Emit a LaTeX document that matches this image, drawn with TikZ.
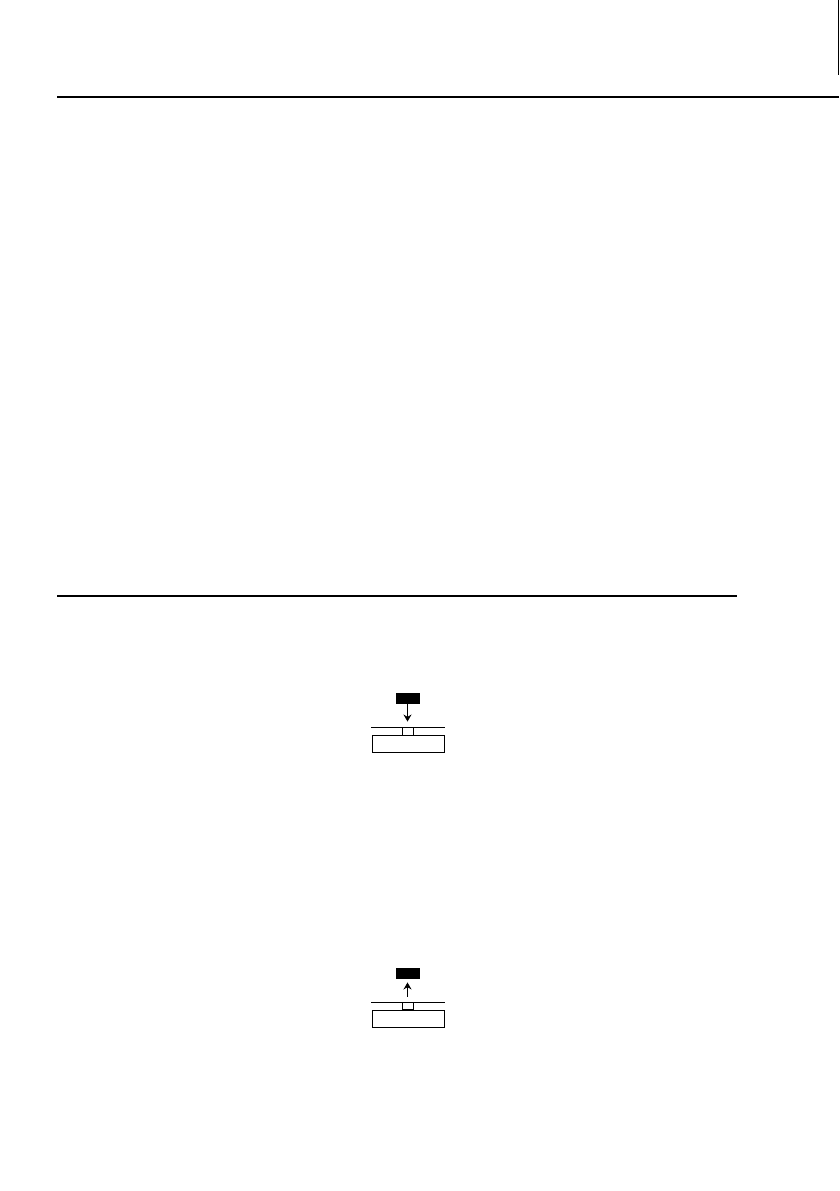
\documentclass[tikz,border=0pt]{standalone}
\usepackage{amsmath,amsfonts}
\usetikzlibrary{arrows.meta}

\tikzset{
  keyblk/.style={rectangle,draw,fill=black,minimum width=23pt,minimum height=10pt,inner sep=0pt},
  tabbox/.style={rectangle,draw,fill=white,minimum width=11pt,minimum height=8pt,inner sep=0pt},
  slotbox/.style={rectangle,draw,minimum width=72pt,minimum height=17pt,inner sep=0pt},
  rule/.style={line width=1.1pt},
  push/.style={-{Stealth[length=7pt,width=8pt]},line width=1.1pt}
}

\begin{document}
\begin{tikzpicture}[x=1pt,y=-1pt,line width=0.9pt]
                \useasboundingbox (0,0) rectangle (839,1191);

                % page rules
                \draw[rule] (838.3,0) -- (838.3,75);
                \draw[rule] (57,97) -- (839,97);
                \draw[rule] (57,596) -- (737,596);

                % insert
                \node[keyblk] (KEY1) at (407.5,698.5){};
                \draw (371,727) -- (445,727);
                \node[slotbox] (SLOT1) at (408,743.5){};
                \node[tabbox] (TAB1) at (407.5,731){};
                \draw[push] (KEY1.south) -- ([yshift=5pt]TAB1.north);

                % eject
                \node[keyblk] (KEY2) at (407.5,973){};
                \draw (371,1002) -- (445,1002);
                \node[slotbox] (SLOT2) at (408,1018.5){};
                \node[tabbox,minimum height=7pt] (TAB2) at (407.5,1005.5){};
                \draw[push] ([yshift=5pt]TAB2.north) -- ([yshift=-4pt]KEY2.south);
        \end{tikzpicture}
\end{document}
